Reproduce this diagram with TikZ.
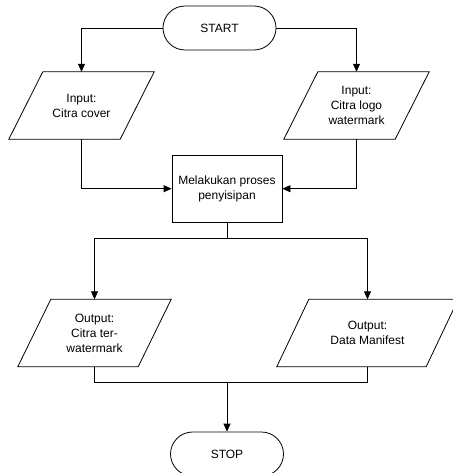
\documentclass[tikz,border=0pt]{standalone}
\usepackage{fontspec}
\setmainfont{Liberation Sans}
\usetikzlibrary{arrows.meta}

% parallelogram outline around a text node; #2 = half of the horizontal slant (pt)
\newcommand\ioshape[2]{%
  \draw[outline] ([xshift=-#2pt]#1.south west) -- ([xshift=#2pt]#1.north west)
    -- ([xshift=#2pt]#1.north east) -- ([xshift=-#2pt]#1.south east) -- cycle;}

\begin{document}
\begin{tikzpicture}[x=1pt,y=-1pt,
  outline/.style={draw=black, line width=0.8pt},
  lbl/.style={font=\fontsize{12}{15}\selectfont, align=center, inner sep=0pt},
  terminal/.style={lbl, outline, rounded corners=22pt, minimum width=113pt, minimum height=44pt},
  process/.style={lbl, outline, minimum width=110pt, minimum height=67pt},
  iotext/.style={lbl, minimum height=67pt},
  link/.style={line width=0.8pt},
  arrow/.style={link, -{Triangle[length=8pt,width=7pt]}}]
\useasboundingbox (0,0) rectangle (452,473);

% nodes
\node[terminal] (start) at (219.5,28) {START};
\node[iotext, minimum width=111pt] (in1) at (81.5,105.5) {Input:\\Citra cover};
\ioshape{in1}{17}
\node[iotext, minimum width=111pt] (in2) at (356.5,105.5) {Input:\\Citra logo\\watermark};
\ioshape{in2}{17}
\node[process] (proc) at (227,188.7) {Melakukan proses\\penyisipan};
\node[iotext, minimum width=120pt] (out1) at (94.5,333) {Output:\\Citra ter-\\watermark};
\ioshape{out1}{16.5}
\node[iotext, minimum width=149pt] (out2) at (367.5,333) {Output:\\Data Manifest};
\ioshape{out2}{16}
\node[terminal] (stop) at (227,454) {STOP};

% branch points
\coordinate (split) at (227,238);
\coordinate (merge) at (227,382);

% connectors
\draw[arrow] (start.west) -| (in1.north);
\draw[arrow] (start.east) -| (in2.north);
\draw[arrow] (in1.south) |- (proc.west);
\draw[arrow] (in2.south) |- (proc.east);
\draw[link] (proc.south) -- (split);
\draw[arrow] (split) -| (out1.north);
\draw[arrow] (split) -| (out2.north);
\draw[link] (out1.south) |- (merge);
\draw[link] (out2.south) |- (merge);
\draw[arrow] (merge) -- (stop.north);
\end{tikzpicture}
\end{document}
